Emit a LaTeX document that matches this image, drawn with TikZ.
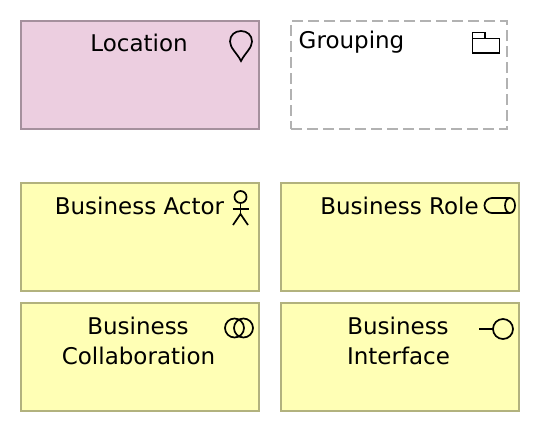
\documentclass[tikz,border=0pt]{standalone}
\usepackage{fontspec}
\setmainfont{DejaVu Sans}
\definecolor{biz}{RGB}{255,255,181}
\definecolor{bizline}{RGB}{178,178,126}
\definecolor{loc}{RGB}{236,206,224}
\definecolor{locline}{RGB}{165,144,157}
\definecolor{grp}{RGB}{178,178,178}
\tikzset{
  x=1pt,y=-1pt,
  boxbase/.style={rectangle,anchor=north west,inner sep=0pt,outer sep=0pt,line width=2pt},
  bizbox/.style={boxbase,draw=bizline,fill=biz,minimum width=238pt,minimum height=108pt},
  locbox/.style={boxbase,draw=locline,fill=loc,minimum width=238pt,minimum height=108pt},
  grpbox/.style={boxbase,draw=grp,line width=2.2pt,dash pattern=on 11pt off 5pt,minimum width=216pt,minimum height=108pt},
  lbl/.style={anchor=base,inner sep=0pt,font=\fontsize{23}{30}\selectfont,text=black},
  icon/.style={draw=black,line width=1.7pt,fill=none}
}
\begin{document}
\begin{tikzpicture}
\useasboundingbox (0,0) rectangle (540,432);
\node[locbox] (location) at (21,21) {};
\node[grpbox] (grouping) at (291,21) {};
\node[bizbox] (actor) at (21,183) {};
\node[bizbox] (role) at (281,183) {};
\node[bizbox] (collab) at (21,303) {};
\node[bizbox] (iface) at (281,303) {};
\node[lbl] (t1) at (139,51.5) {Location};
\node[lbl,anchor=base west] (t2) at (298.5,48) {Grouping};
\node[lbl] (t3) at (139.5,214) {Business Actor};
\node[lbl] (t4) at (399.5,214) {Business Role};
\node[lbl] (t5) at (138,334) {Business};
\node[lbl] (t6) at (138.5,364) {Collaboration};
\node[lbl] (t7) at (398,334) {Business};
\node[lbl] (t8) at (398.5,364) {Interface};
% location pin
\draw[icon] (241,61) .. controls (237,53) and (230,48) .. (230,41.5)
  .. controls (230,35) and (235,31) .. (241,31)
  .. controls (247,31) and (252,35) .. (252,41.5)
  .. controls (252,48) and (245,53) .. (241,61) -- cycle;
% folder
\draw[icon] (472.5,53) rectangle (499.5,38.5);
\draw[icon] (472.5,38.5) -- (472.5,32.5) -- (485,32.5) -- (485,38.5);
% actor
\draw[icon] (240.5,197) circle (6);
\draw[icon] (240.5,203) -- (240.5,214);
\draw[icon] (232.5,209) -- (249,209);
\draw[icon] (233,225) -- (240.5,214) -- (248,225);
% role
\draw[icon] (492,198) -- (510,198) arc[start angle=90,end angle=-90,x radius=5,y radius=-7.5] -- (492,213)
  arc[start angle=270,end angle=90,x radius=7.5,y radius=-7.5] -- cycle;
\draw[icon] (510,198) arc[start angle=90,end angle=270,x radius=5,y radius=-7.5];
% collaboration
\draw[icon] (234.5,328) circle (9.5);
\draw[icon] (243.5,328) circle (9.5);
% interface
\draw[icon] (503,329) circle (10);
\draw[icon] (479,329) -- (493,329);
\end{tikzpicture}
\end{document}
